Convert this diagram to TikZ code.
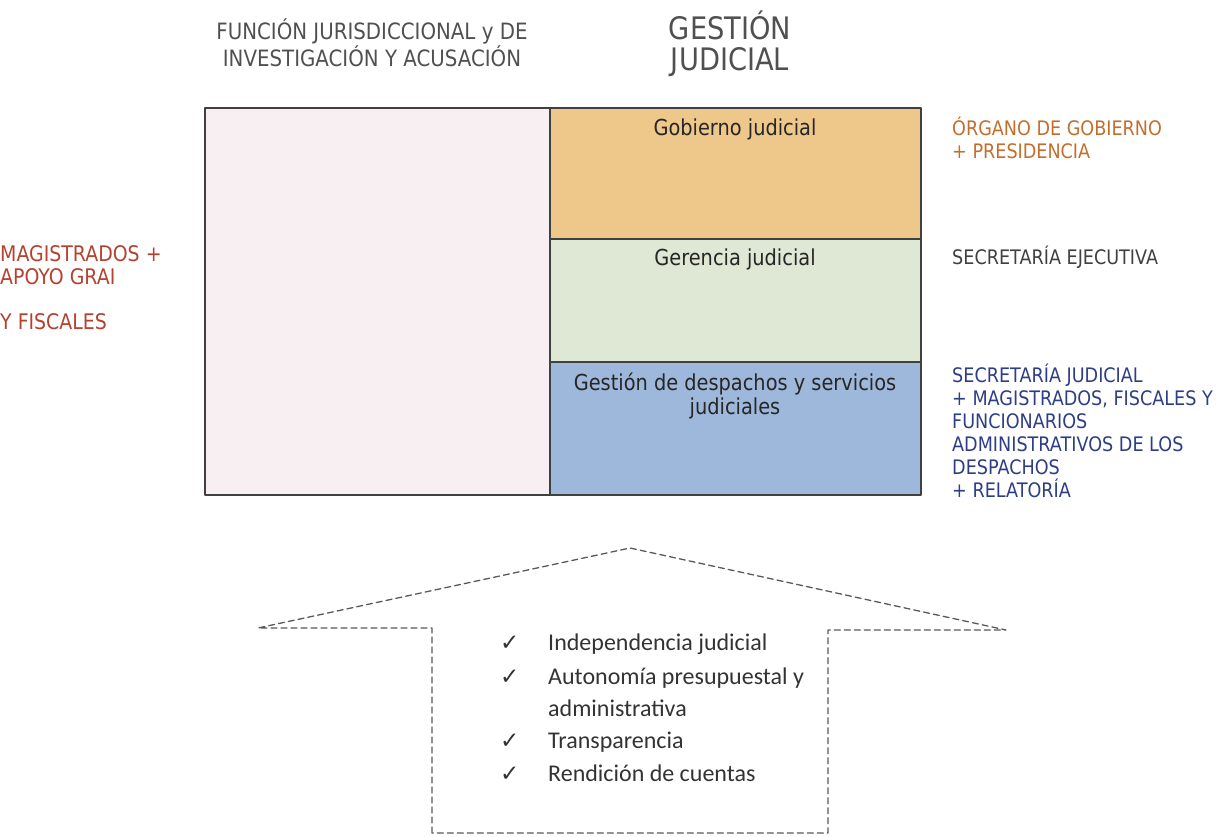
\documentclass[tikz,border=0pt]{standalone}
\usepackage{fontspec}
\usepackage{pgf,tikz}
\setmainfont{DejaVu Sans}[FakeStretch=0.88]
\newfontfamily\calib{Carlito}
\newfontfamily\symb{DejaVu Sans}
\definecolor{gobfill}{RGB}{238,200,138}
\definecolor{gerfill}{RGB}{222,232,213}
\definecolor{gesfill}{RGB}{157,184,218}
\definecolor{funfill}{RGB}{248,239,242}
\definecolor{ortext}{RGB}{196,110,45}
\definecolor{redtext}{RGB}{180,66,48}
\definecolor{bltext}{RGB}{46,62,134}
\definecolor{grtext}{RGB}{80,80,80}
\tikzset{
  lbl/.style={inner sep=0pt, align=left, anchor=base west, font=\fontsize{20}{23}\selectfont},
  head/.style={inner sep=0pt, align=center, anchor=base, text=grtext},
  boxtxt/.style={inner sep=0pt, align=center, anchor=base, font=\fontsize{22}{24}\selectfont, text=black!85},
  chk/.style={inner sep=0pt, anchor=base west, font=\calib\fontsize{24}{32}\selectfont, text=black!80},
}
\begin{document}
\begin{tikzpicture}[line cap=round,line join=round,x=1pt,y=-1pt]
\useasboundingbox (0,0) rectangle (1216,836);
% columns
\draw [line width=1.4pt, draw=black!75, fill=funfill] (205,108) rectangle (550,495);
\draw [line width=1.4pt, draw=black!75, fill=gobfill] (550,108) rectangle (921,239);
\draw [line width=1.4pt, draw=black!75, fill=gerfill] (550,239) rectangle (921,362);
\draw [line width=1.4pt, draw=black!75, fill=gesfill] (550,362) rectangle (921,495);
% headings (base = last line)
\node [head, font=\fontsize{22.5}{25}\selectfont] (fun) at (372,66) {FUNCIÓN JURISDICCIONAL y DE\\INVESTIGACIÓN Y ACUSACIÓN};
\node [head, font=\fontsize{31}{31}\selectfont] (gest) at (730,70) {GESTIÓN\\JUDICIAL};
% box labels
\node [boxtxt] (gob) at (735,135) {Gobierno judicial};
\node [boxtxt] (ger) at (735,265) {Gerencia judicial};
\node [boxtxt] (ges) at (735,414) {Gestión de despachos y servicios\\judiciales};
% side labels
\node [lbl, text=redtext, font=\fontsize{21.5}{23}\selectfont] (mag) at (0,329) {MAGISTRADOS +\\APOYO GRAI\\[22pt]Y FISCALES};
\node [lbl, text=ortext] (org) at (952,158) {ÓRGANO DE GOBIERNO\\+ PRESIDENCIA};
\node [lbl, text=black!75] (sec) at (952,264) {SECRETARÍA EJECUTIVA};
\node [lbl, text=bltext] (secj) at (952,497) {SECRETARÍA JUDICIAL\\+ MAGISTRADOS, FISCALES Y\\FUNCIONARIOS\\ADMINISTRATIVOS DE LOS\\DESPACHOS\\+ RELATORÍA};
% arrow
\draw [dash pattern=on 6pt off 4pt, line width=1.3pt, draw=black!65]
  (432,833) -- (432,628) -- (258,628) -- (630,548) -- (1006,630) -- (828,630) -- (828,833) -- cycle;
% checklist
\foreach \t/\y/\c in {Independencia judicial/650/1, Autonomía presupuestal y/684/1, administrativa/716/0, Transparencia/748/1, Rendición de cuentas/781/1}{
  \node [chk] (it\y) at (548,\y) {\t};
  \ifnum\c=1 \node [chk, font=\symb\fontsize{23}{23}\selectfont] (ck\y) at (500,\y) {✓}; \fi
}
\end{tikzpicture}
\end{document}
